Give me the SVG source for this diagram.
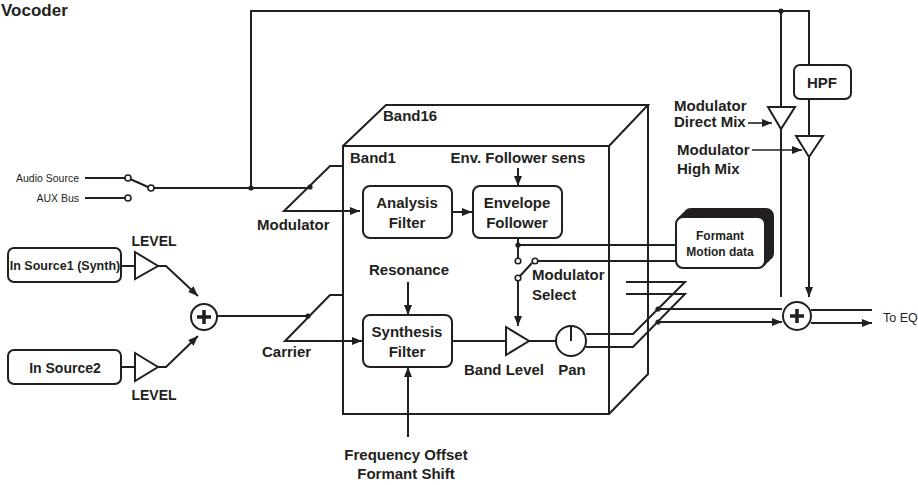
<svg xmlns="http://www.w3.org/2000/svg" width="918" height="485" viewBox="0 0 918 485">
<defs>
<marker id="ah" viewBox="0 0 10 8" refX="10" refY="4" markerWidth="10" markerHeight="8" markerUnits="userSpaceOnUse" orient="auto">
<path d="M0,0 L10,4 L0,8 Z" fill="#231f20"/>
</marker>
</defs>
<style>
.ln{fill:none;stroke:#231f20;stroke-width:2}
.box{fill:#fff;stroke:#231f20;stroke-width:2}
.t{font-family:"Liberation Sans",Arial,sans-serif;font-weight:bold;font-size:15px;fill:#231f20}
.c{text-anchor:middle}
.r{font-family:"Liberation Sans",Arial,sans-serif;font-size:10.5px;fill:#231f20}
.dot{fill:#231f20}
.ring{fill:#fff;stroke:#231f20;stroke-width:1.6}
.ar{fill:none;stroke:#231f20;stroke-width:2;marker-end:url(#ah)}
</style>
<rect width="918" height="485" fill="#fff"/>
<text x="1" y="16" class="t" style="font-size:17px">Vocoder</text>

<g id="cube">
<rect x="343" y="146" width="266" height="268" class="ln"/>
<path d="M343,146 L386,105 L648,105 L609,146 M648,105 L648,374 L609,414" class="ln"/>
<text x="383" y="121" class="t">Band16</text>
<text x="350" y="163" class="t">Band1</text>
</g>

<g id="connectors">
<path d="M85,178 H125 M85,198 H125" class="ln"/>
<path d="M130,179 L148,187" class="ln"/>
<path d="M154,188 H310" class="ln"/>
<path d="M251,188 V11 H809 V65 M809,99 V136 M781,11 V107" class="ln"/>
<path d="M781,129 V297 M809,157 V297" class="ar"/>
<path d="M343,166 H330 L284,211 H360" class="ln"/>
<path d="M343,211 H360" class="ar"/>
<path d="M343,295 H330 L285,341 H362" class="ln"/>
<path d="M343,341 H362" class="ar"/>
<path d="M217,316 H308" class="ln"/>
<path d="M121,266 H135 M121,367 H135" class="ln"/>
<path d="M158,266 H166 L198,296" class="ar"/>
<path d="M158,367 H166 L198,336" class="ar"/>
<path d="M452,212 H472" class="ar"/>
<path d="M518,168 V186" class="ar"/>
<path d="M408,282 V315" class="ar"/>
<path d="M408,437 V367" class="ar"/>
<path d="M518,238 V258 M518,245 H676 M537,261 H676" class="ln"/>
<path d="M520,276 L532,263" class="ln"/>
<path d="M518,281 V326" class="ar"/>
<path d="M452,341 H506 M529,341 H556" class="ln"/>
<path d="M586,334 H633 L685,282 H626 M586,347 H633 L685,294 H626" class="ln"/>
<path d="M658,309 H782 M658,322 H782" class="ar"/>
<path d="M811,310 H872 M811,323 H872" class="ar"/>
<path d="M748,123 H772" class="ar" style="stroke-width:1.6"/>
<path d="M752,150 H802" class="ar" style="stroke-width:1.6"/>
<circle cx="251" cy="188" r="2.6" class="dot"/>
<circle cx="310" cy="187" r="2.6" class="dot"/>
<circle cx="308" cy="316" r="2.6" class="dot"/>
<circle cx="781" cy="11" r="2.6" class="dot"/>
<circle cx="518" cy="245" r="2.6" class="dot"/>
<circle cx="658" cy="309" r="2.6" class="dot"/>
<circle cx="658" cy="322" r="2.6" class="dot"/>
<circle cx="128" cy="178" r="3" class="ring"/>
<circle cx="128" cy="198" r="3" class="ring"/>
<circle cx="151" cy="188" r="3" class="ring"/>
<circle cx="518" cy="261" r="2.8" class="ring"/>
<circle cx="535" cy="261" r="2.8" class="ring"/>
<circle cx="518" cy="278" r="2.8" class="ring"/>
</g>

<g id="labels">
<text x="79" y="182" class="r" text-anchor="end">Audio Source</text>
<text x="79" y="202" class="r" text-anchor="end">AUX Bus</text>
<text x="257" y="230" class="t">Modulator</text>
<text x="262" y="357" class="t">Carrier</text>
<text x="154" y="246" class="t c" style="font-size:14px">LEVEL</text>
<text x="154" y="400" class="t c" style="font-size:14px">LEVEL</text>
<text x="518" y="163" class="t c">Env. Follower sens</text>
<text x="409" y="275" class="t c">Resonance</text>
<text x="532" y="280" class="t">Modulator</text>
<text x="532" y="300" class="t">Select</text>
<text x="504" y="375" class="t c">Band Level</text>
<text x="572" y="375" class="t c">Pan</text>
<text x="406" y="460" class="t c">Frequency Offset</text>
<text x="406" y="479" class="t c">Formant Shift</text>
<text x="674" y="111" class="t">Modulator</text>
<text x="674" y="127" class="t">Direct Mix</text>
<text x="677" y="155" class="t">Modulator</text>
<text x="677" y="174" class="t">High Mix</text>
<text x="883" y="322" class="r" style="font-size:12.5px">To EQ</text>
</g>

<g id="src1">
<rect x="8" y="248" width="113" height="34" rx="6" class="box"/>
<text x="65" y="270" class="t c" style="font-size:12.5px">In Source1 (Synth)</text>
</g>
<g id="src2">
<rect x="8" y="350" width="113" height="34" rx="6" class="box"/>
<text x="65" y="373" class="t c" style="font-size:14px">In Source2</text>
</g>
<g id="level1"><path d="M135,252 L158,266 L135,279 Z" class="box"/></g>
<g id="level2"><path d="M135,353 L158,367 L135,381 Z" class="box"/></g>
<g id="sum1">
<circle cx="204" cy="317" r="13" class="box"/>
<path d="M197,317 H211 M204,310 V324" style="stroke:#231f20;stroke-width:3.5"/>
</g>
<g id="analysis">
<rect x="363" y="186" width="89" height="52" rx="7" class="box"/>
<text x="407" y="208" class="t c">Analysis</text>
<text x="407" y="228" class="t c">Filter</text>
</g>
<g id="envelope">
<rect x="473" y="186" width="89" height="52" rx="7" class="box"/>
<text x="517" y="208" class="t c">Envelope</text>
<text x="517" y="228" class="t c">Follower</text>
</g>
<g id="synthesis">
<rect x="363" y="315" width="89" height="52" rx="7" class="box"/>
<text x="407" y="337" class="t c">Synthesis</text>
<text x="407" y="357" class="t c">Filter</text>
</g>
<g id="bandlevel"><path d="M506,327 L529,341 L506,355 Z" class="box"/></g>
<g id="pan">
<circle cx="571" cy="341" r="15" class="box"/>
<path d="M571,341 V326" class="ln"/>
</g>
<g id="formant">
<rect x="684" y="209" width="89" height="51" rx="7" fill="#231f20" stroke="#231f20" stroke-width="2"/>
<rect x="681" y="212" width="89" height="51" rx="7" fill="#231f20" stroke="#231f20" stroke-width="2"/>
<rect x="678" y="215" width="89" height="51" rx="7" fill="#231f20" stroke="#231f20" stroke-width="2"/>
<rect x="676" y="217" width="89" height="51" rx="7" class="box" stroke-width="1.5"/>
<text x="720" y="240" class="t c" style="font-size:12px">Formant</text>
<text x="720" y="256" class="t c" style="font-size:12px">Motion data</text>
</g>
<g id="hpf">
<rect x="794" y="65" width="57" height="34" rx="6" class="box" stroke-width="1.6"/>
<text x="822" y="88" class="t c">HPF</text>
</g>
<g id="directmix"><path d="M768,107 L795,107 L781,129 Z" class="box" stroke-width="1.3"/></g>
<g id="highmix"><path d="M796,136 L823,136 L809,157 Z" class="box" stroke-width="1.3"/></g>
<g id="sum2">
<circle cx="797" cy="316" r="14" class="box"/>
<path d="M790,316 H804 M797,309 V323" style="stroke:#231f20;stroke-width:3.5"/>
</g>
</svg>
